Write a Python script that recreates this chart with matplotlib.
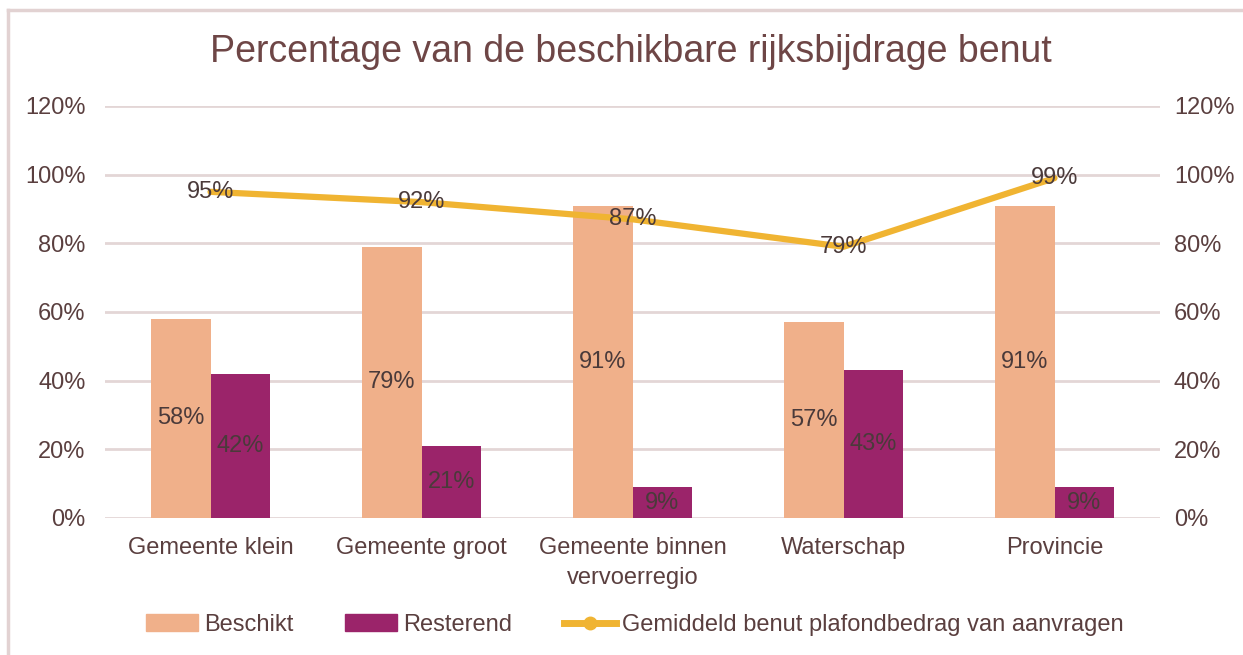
import matplotlib
matplotlib.use("Agg")
import matplotlib.pyplot as plt
from matplotlib.patches import Patch
from matplotlib.lines import Line2D
from matplotlib.ticker import FuncFormatter
import numpy as np

categories = ["Gemeente klein", "Gemeente groot", "Gemeente binnen\nvervoerregio", "Waterschap", "Provincie"]
beschikt = [0.58, 0.79, 0.91, 0.57, 0.91]
resterend = [0.42, 0.21, 0.09, 0.43, 0.09]
gemiddeld = [0.95, 0.92, 0.87, 0.79, 0.99]
yticks = [0, 0.2, 0.4, 0.6, 0.8, 1.0, 1.2]

c_besch = "#F0B08A"
c_rest = "#9B246A"
c_line = "#F0B432"
c_text = "#5a3f3f"
c_title = "#6e4646"
c_grid = "#e3d6d6"
fs = 17

plt.rcParams['font.family'] = ['Liberation Sans', 'DejaVu Sans']

fig = plt.figure(figsize=(12.43, 6.55), dpi=100)
ax = fig.add_axes([105/1243, 1-518/655, (1160-105)/1243, (518-106)/655])
ax2 = ax.twinx()

x = np.arange(len(categories))
w = 0.284
b1 = ax.bar(x - w/2, beschikt, w, color=c_besch, zorder=2)
b2 = ax.bar(x + w/2, resterend, w, color=c_rest, zorder=2)
for rect, v in zip(b1, beschikt):
    ax.text(rect.get_x()+rect.get_width()/2, v/2, f"{round(v*100)}%", ha='center', va='center',
            fontsize=fs, color="#4a3a3a", zorder=3)
for rect, v in zip(b2, resterend):
    ax.text(rect.get_x()+rect.get_width()/2, v/2, f"{round(v*100)}%", ha='center', va='center',
            fontsize=fs, color="#4a3a3a", zorder=3)

ax2.plot(x, gemiddeld, color=c_line, lw=4.5, solid_capstyle='round', zorder=2)
for xi, v in zip(x, gemiddeld):
    ax2.text(xi, v, f"{round(v*100)}%", ha='center', va='center', fontsize=fs, color="#4a3a3a", zorder=3)

for a in (ax, ax2):
    a.set_ylim(0, 1.2)
    a.set_yticks(yticks)
    a.yaxis.set_major_formatter(FuncFormatter(lambda v, p: f"{round(v*100)}%"))
    a.tick_params(axis='y', length=0, labelsize=fs, labelcolor=c_text)
    for s in a.spines.values():
        s.set_visible(False)
ax.tick_params(axis='y', pad=14)
ax2.tick_params(axis='y', pad=10)
ax.set_xlim(-0.5, len(categories)-0.5)
ax.set_xticks(x)
ax.set_xticklabels(categories, fontsize=fs, color=c_text, linespacing=1.45)
ax.tick_params(axis='x', length=0, pad=14)
ax.grid(axis='y', color=c_grid, lw=2, zorder=0)
ax.set_axisbelow(True)

fig.text(631/1243, 1-52/655, "Percentage van de beschikbare rijksbijdrage benut", ha='center', va='center',
         fontsize=27, color=c_title)

handles = [Patch(color=c_besch), Patch(color=c_rest),
           Line2D([0], [0], color=c_line, lw=5, marker='o', markersize=9)]
labels = ["Beschikt", "Resterend", "Gemiddeld benut plafondbedrag van aanvragen"]
leg = fig.legend(handles, labels, loc='center', bbox_to_anchor=(635/1243, 1-625/655), ncol=3, frameon=False,
                 fontsize=fs, handlelength=2.2, handleheight=0.75, columnspacing=2.2, handletextpad=0.25)
for t in leg.get_texts():
    t.set_color(c_text)

fig.add_artist(Line2D([8/1243, 8/1243], [0, 1-10/655], transform=fig.transFigure, color="#e2d2d2", lw=2.5))
fig.add_artist(Line2D([8/1243, 1], [1-10/655, 1-10/655], transform=fig.transFigure, color="#e2d2d2", lw=2.5))

fig.savefig("out.png", dpi=100)
